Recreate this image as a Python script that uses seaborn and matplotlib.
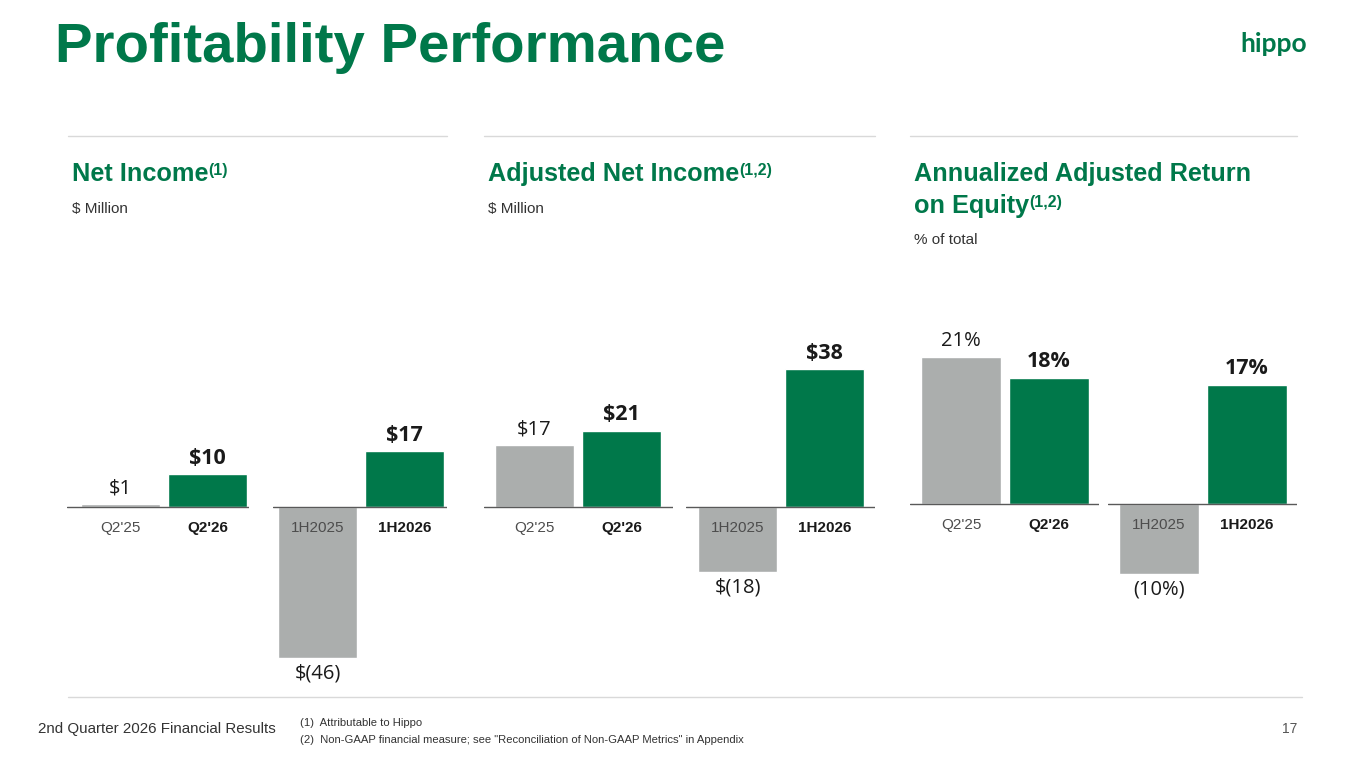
"""
Profitability Performance slide - seaborn recreation
"""

import matplotlib
matplotlib.use('Agg')
import matplotlib.pyplot as plt
import seaborn as sns
import pandas as pd

GREEN = '#00784A'
GRAY = '#ABAEAD'
BASE_LINE = '#595959'
RULE = '#D9D9D9'

# ---- data ----
period_q = ["Q2'25", "Q2'26"]
period_h = ["1H2025", "1H2026"]
net_income_q = [1, 10]
net_income_h = [-46, 17]
adj_net_income_q = [17, 21]
adj_net_income_h = [-18, 38]
roe_q = [21, 18]
roe_h = [-10, 17]

W, H = 1365, 768
AX_TOP, AX_BOT = 290, 700


def fx(px):
    return px / W


def fy(py):
    return 1 - py / H


def fmt_money(v):
    return f'${v}' if v >= 0 else f'$({-v})'


def fmt_pct(v):
    return f'{v}%' if v >= 0 else f'({-v}%)'


sns.set_theme(style='white')
plt.rcParams['font.family'] = ['Liberation Sans', 'DejaVu Sans']

fig = plt.figure(figsize=(13.65, 7.68), dpi=100)
renderer = fig.canvas.get_renderer()


def draw_group(values, labels, x0, x1, bar_left, base, scale, fmt, pitch=87, bw=79):
    ax = fig.add_axes([fx(x0), fy(AX_BOT), fx(x1 - x0), (AX_BOT - AX_TOP) / H])
    df = pd.DataFrame({'period': labels, 'value': values})
    sns.barplot(data=df, x='period', y='value', hue='period',
                palette=[GRAY, GREEN], width=bw / pitch, saturation=1,
                legend=False, ax=ax)
    c0 = bar_left + bw / 2
    ax.set_xlim(-(c0 - x0) / pitch, (x1 - c0) / pitch)
    ax.set_ylim(-(AX_BOT - base) / scale, (base - AX_TOP) / scale)
    ax.axhline(0, color=BASE_LINE, lw=1.0, zorder=5)
    ax.set_axis_off()
    for i, (lab, v) in enumerate(zip(labels, values)):
        bold = i == 1
        ax.annotate(fmt(v), (i, v), xytext=(0, 4 if v >= 0 else -4),
                    textcoords='offset points', ha='center',
                    va='bottom' if v >= 0 else 'top',
                    fontsize=15.5 if bold else 14.5,
                    fontweight='bold' if bold else 'normal',
                    family=['Open Sans', 'DejaVu Sans'], color='#1a1a1a')
        ax.annotate(lab, (i, 0), xytext=(0, -10), textcoords='offset points',
                    ha='center', va='top', fontsize=11,
                    fontweight='bold' if bold else 'normal',
                    color='#1a1a1a' if bold else '#4d4d4d', zorder=6)


# Net Income
draw_group(net_income_q, period_q, 67, 249, 81, 507, 3.28, fmt_money)
draw_group(net_income_h, period_h, 273, 447, 278, 507, 3.28, fmt_money)
# Adjusted Net Income
draw_group(adj_net_income_q, period_q, 484, 673, 495, 507, 3.62, fmt_money)
draw_group(adj_net_income_h, period_h, 686, 875, 698, 507, 3.62, fmt_money)
# Annualized Adjusted ROE
draw_group(roe_q, period_q, 910, 1099, 921, 504, 7.0, fmt_pct, pitch=88, bw=80)
draw_group(roe_h, period_h, 1108, 1297, 1119, 504, 7.0, fmt_pct, pitch=88, bw=80)


def title_with_sup(x, y, main, sup):
    t = fig.text(fx(x), fy(y), main, fontsize=18.2, fontweight='bold',
                 color=GREEN, va='baseline')
    bb = t.get_window_extent(renderer=renderer)
    fig.text(bb.x1 / W, fy(y - 6), sup, fontsize=11.5,
             fontweight='bold', color=GREEN, va='baseline')


# headline + logo
fig.text(fx(55), fy(62), 'Profitability Performance', fontsize=40.6,
         fontweight='bold', color=GREEN, va='baseline')
fig.text(fx(1240), fy(52), 'hippo', fontsize=19, fontweight='bold',
         color=GREEN, va='baseline', family=['Lato', 'DejaVu Sans'])

# section rules
for a, b in [(68, 447), (484, 875), (910, 1297)]:
    fig.add_artist(plt.Line2D([fx(a), fx(b)], [fy(136), fy(136)],
                              color=RULE, lw=1.0))
fig.add_artist(plt.Line2D([fx(68), fx(1302)], [fy(697), fy(697)],
                          color=RULE, lw=1.0))

# section titles
title_with_sup(72, 181, 'Net Income', '(1)')
fig.text(fx(72), fy(213), '$ Million', fontsize=11, color='#333333', va='baseline')
title_with_sup(488, 181, 'Adjusted Net Income', '(1,2)')
fig.text(fx(488), fy(213), '$ Million', fontsize=11, color='#333333', va='baseline')
fig.text(fx(914), fy(181), 'Annualized Adjusted Return', fontsize=18.2,
         fontweight='bold', color=GREEN, va='baseline')
title_with_sup(914, 213, 'on Equity', '(1,2)')
fig.text(fx(914), fy(244), '% of total', fontsize=11, color='#333333', va='baseline')

# footer
fig.text(fx(38), fy(733), '2nd Quarter 2026 Financial Results', fontsize=10.9,
         color='#333333', va='baseline')
fig.text(fx(300), fy(726), '(1)  Attributable to Hippo', fontsize=8.1,
         color='#333333', va='baseline')
fig.text(fx(300), fy(743),
         '(2)  Non-GAAP financial measure; see "Reconciliation of Non-GAAP Metrics" in Appendix',
         fontsize=8.1, color='#333333', va='baseline')
fig.text(fx(1297), fy(733), '17', fontsize=10, color='#555555',
         va='baseline', ha='right')

fig.savefig('out.png', dpi=100)
plt.close(fig)
